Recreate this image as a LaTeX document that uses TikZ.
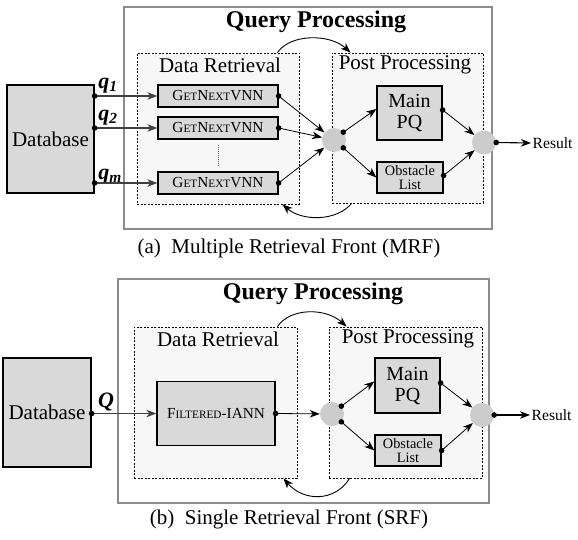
\documentclass[tikz,border=0pt]{standalone}
\usepackage{fontspec}
\setmainfont{Liberation Serif}
\usetikzlibrary{arrows.meta}
\newcommand\mysc[1]{{\fontsize{11.3}{12}\selectfont #1}}
\begin{document}
\begin{tikzpicture}[x=1pt,y=-1pt,
  box/.style={draw=black, line width=1.3pt, fill=black!15, inner sep=0pt, align=center},
  outerbox/.style={draw=black!45, line width=1.2pt, fill=white, inner sep=0pt},
  zone/.style={draw=black, line width=0.8pt, dash pattern=on 2pt off 1.5pt, fill=black!3, inner sep=0pt},
  hub/.style={circle, fill=black!20, minimum size=24pt, inner sep=0pt},
  tip/.style={-{Stealth[length=10pt,width=7.5pt,inset=3pt]}},
  conn/.style={line width=0.8pt, tip},
  feed/.style={draw=black!75, line width=1.2pt, tip},
  loopar/.style={line width=0.9pt, tip},
  bigfont/.style={font=\fontsize{21}{24}\selectfont},
  titlefont/.style={font=\fontsize{24}{27}\selectfont\bfseries},
  labfont/.style={font=\fontsize{22}{24}\selectfont\bfseries\itshape},
  pqfont/.style={font=\fontsize{20}{21}\selectfont},
  smallfont/.style={font=\fontsize{14.3}{13.5}\selectfont},
  procfont/.style={font=\fontsize{15.3}{17}\selectfont},
  capfont/.style={font=\fontsize{21}{24}\selectfont},
]
\path[use as bounding box] (0,0) rectangle (578,540);

% ================= (a) =================
\node[outerbox, minimum width=368pt, minimum height=222pt] (qa) at (308,118) {};
\node[zone, minimum width=162pt, minimum height=151pt] (dra) at (218,128.5) {};
\node[zone, minimum width=151pt, minimum height=150pt] (ppa) at (407.5,128) {};
\node[titlefont] (tqa) at (316,22) {Query Processing};
\node[bigfont] (tdra) at (220,65) {Data Retrieval};
\node[bigfont] (tppa) at (405,65) {Post Processing};

\node[box, bigfont, minimum width=87pt, minimum height=108pt] (dba) at (50.5,139) {Database};
\node[box, procfont, minimum width=120pt, minimum height=22pt] (g1) at (218,96) {G\mysc{ET}N\mysc{EXT}VNN};
\node[box, procfont, minimum width=120pt, minimum height=22pt] (g2) at (218,128) {G\mysc{ET}N\mysc{EXT}VNN};
\node[box, procfont, minimum width=120pt, minimum height=22pt] (g3) at (218,183) {G\mysc{ET}N\mysc{EXT}VNN};
\draw[black!60, line width=0.6pt, dash pattern=on 1pt off 1pt] (218,145) -- (218,167);

\node[labfont] (q1) at (108,86) {q\textsubscript{1}};
\node[labfont] (q2) at (108,118) {q\textsubscript{2}};
\node[labfont] (qm) at (110,177) {q\textsubscript{m}};

\node[hub] (hla) at (334,140) {};
\node[hub] (hra) at (484,142.5) {};
\node[box, pqfont, minimum width=65pt, minimum height=54pt] (mpa) at (409.5,113) {Main\\PQ};
\node[box, smallfont, minimum width=66pt, minimum height=31pt] (oba) at (410,177.5) {Obstacle\\List};
\node[anchor=west, inner sep=1.5pt, font=\fontsize{15.6}{17}\selectfont] (resa) at (531,143) {Result};

\draw[feed] (dba.east |- g1.west) -- (g1.west);
\draw[feed] (dba.east |- g2.west) -- (g2.west);
\draw[feed] (dba.east |- g3.west) -- (g3.west);
\draw[conn] (g1.east) -- (hla);
\draw[conn] (g2.east) -- (hla);
\draw[conn] (g3.east) -- (hla);
\draw[conn] (hla.40) -- ([yshift=4pt]mpa.west);
\draw[conn] (hla.-40) -- (oba.west);
\draw[conn] ([yshift=3pt]mpa.east) -- (hra);
\draw[conn] ([yshift=2pt]oba.east) -- (hra);
\draw[conn, line width=1.1pt] (hra.east) -- (resa.west);
\draw[loopar] ([xshift=-22pt]dra.north east) .. controls +(13,-19) and +(-21,-19) .. ([xshift=19pt]ppa.north west);
\draw[loopar] ([xshift=20pt]ppa.south west) .. controls +(-15,18) and +(20,17) .. ([xshift=-17pt]dra.south east);

\foreach \p in {dba.east |- g1.west, dba.east |- g2.west, dba.east |- g3.west}
  \fill (\p) circle (2.8pt);
\foreach \p in {g1.east, g2.east, g3.east, hla.40, hla.-40, hra.east}
  \fill (\p) circle (2.8pt);
\fill ([yshift=3pt]mpa.east) circle (2.8pt);
\fill ([yshift=2pt]oba.east) circle (2.8pt);

\node[capfont] (capa) at (289,248) {(a)\ \ Multiple\ Retrieval\ Front\ (MRF)};

% ================= (b) =================
\node[outerbox, minimum width=371pt, minimum height=224pt] (qb) at (303.5,391) {};
\node[zone, minimum width=163pt, minimum height=151pt] (drb) at (215.5,402.5) {};
\node[zone, minimum width=153pt, minimum height=151pt] (ppb) at (405.5,402.5) {};
\node[titlefont] (tqb) at (313,294) {Query Processing};
\node[bigfont] (tdrb) at (218,339) {Data Retrieval};
\node[bigfont] (tppb) at (408,339) {Post Processing};

\node[box, bigfont, minimum width=88pt, minimum height=109pt] (dbb) at (47,412.5) {Database};
\node[box, procfont, minimum width=118pt, minimum height=64pt] (fi) at (216,413.5) {F\mysc{ILTERED}-IANN};
\node[labfont] (qq) at (106,402) {Q};

\node[hub] (hlb) at (332,414) {};
\node[hub] (hrb) at (482,415) {};
\node[box, pqfont, minimum width=65pt, minimum height=55pt] (mpb) at (407.5,385.5) {Main\\PQ};
\node[box, smallfont, minimum width=66pt, minimum height=31pt] (obb) at (408,450.5) {Obstacle\\List};
\node[anchor=west, inner sep=1.5pt, font=\fontsize{15.6}{17}\selectfont] (resb) at (530,415) {Result};

\draw[feed] (dbb.east |- fi.west) -- (fi.west);
\draw[conn] (fi.east) -- (hlb);
\draw[conn] (hlb.40) -- ([yshift=4pt]mpb.west);
\draw[conn] (hlb.-40) -- (obb.west);
\draw[conn] ([yshift=2.5pt]mpb.east) -- (hrb);
\draw[conn] (obb.east) -- (hrb);
\draw[conn, line width=1.1pt] (hrb.east) -- (resb.west);
\draw[loopar] ([xshift=-20pt]drb.north east) .. controls +(13,-19) and +(-21,-19) .. ([xshift=18pt]ppb.north west);
\draw[loopar] ([xshift=21pt]ppb.south west) .. controls +(-15,24) and +(20,23) .. ([xshift=-14pt]drb.south east);

\fill (dbb.east |- fi.west) circle (2.8pt);
\foreach \p in {fi.east, hlb.40, hlb.-40, hrb.east, obb.east}
  \fill (\p) circle (2.8pt);
\fill ([yshift=2.5pt]mpb.east) circle (2.8pt);

\node[capfont] (capb) at (289,519) {(b)\ \ Single\ Retrieval\ Front\ (SRF)};
\end{tikzpicture}
\end{document}
